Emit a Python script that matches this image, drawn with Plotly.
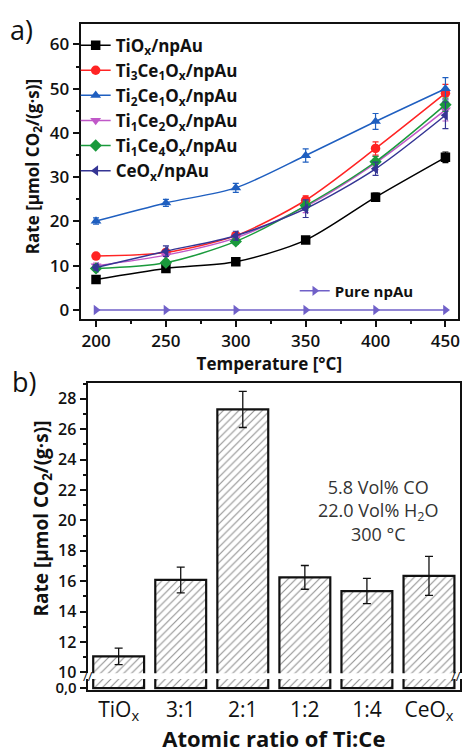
import plotly.graph_objects as go

# ---------------- data: panel a ----------------
temperatures = [200, 250, 300, 350, 400, 450]
series_names = [
    "TiO<sub>x</sub>/npAu",
    "Ti<sub>3</sub>Ce<sub>1</sub>O<sub>x</sub>/npAu",
    "Ti<sub>2</sub>Ce<sub>1</sub>O<sub>x</sub>/npAu",
    "Ti<sub>1</sub>Ce<sub>2</sub>O<sub>x</sub>/npAu",
    "Ti<sub>1</sub>Ce<sub>4</sub>O<sub>x</sub>/npAu",
    "CeO<sub>x</sub>/npAu",
]
tiox = [6.9, 9.4, 10.9, 15.8, 25.5, 34.5]
ti3ce1 = [12.2, 13.0, 16.8, 24.8, 36.5, 49.0]
ti2ce1 = [20.1, 24.2, 27.6, 34.9, 42.6, 50.0]
ti1ce2 = [10.0, 12.4, 16.3, 23.4, 33.2, 45.2]
ti1ce4 = [9.4, 10.7, 15.5, 23.6, 33.5, 46.4]
ceox = [9.6, 13.3, 16.8, 22.9, 31.9, 44.0]
tiox_err = [0.4, 0.5, 0.5, 0.6, 0.9, 1.2]
ti3ce1_err = [0.5, 0.6, 0.7, 1.0, 1.5, 2.0]
ti2ce1_err = [0.7, 0.8, 1.0, 1.5, 1.8, 2.5]
ti1ce2_err = [0.6, 1.0, 0.8, 1.4, 1.5, 2.5]
ti1ce4_err = [0.5, 0.6, 0.6, 1.0, 1.2, 1.5]
ceox_err = [0.6, 1.2, 1.0, 2.0, 1.5, 3.0]
pure_npau = [0, 0, 0, 0, 0, 0]

# ---------------- data: panel b ----------------
categories = ["TiOx", "3:1", "2:1", "1:2", "1:4", "CeOx"]
tick_labels = ["TiO<sub>x</sub>", "3:1", "2:1", "1:2", "1:4", "CeO<sub>x</sub>"]
bar_rates = [11.05, 16.08, 27.3, 16.25, 15.35, 16.35]
bar_errors = [0.54, 0.85, 1.19, 0.78, 0.83, 1.28]

FONT = "Open Sans"
W, H = 464, 753

def px(x):
    return x / W

def py(y):
    return 1 - y / H

fig = go.Figure()

colors = ["#000000", "#ff2424", "#1f5fc0", "#c058c8", "#1a9a3c", "#353594"]
symbols = ["square", "circle", "triangle-up", "triangle-down", "diamond", "triangle-left"]
values = [tiox, ti3ce1, ti2ce1, ti1ce2, ti1ce4, ceox]
errors = [tiox_err, ti3ce1_err, ti2ce1_err, ti1ce2_err, ti1ce4_err, ceox_err]

for name, col, sym, v, e in zip(series_names, colors, symbols, values, errors):
    fig.add_trace(go.Scatter(
        x=temperatures, y=v, name=name, mode="lines+markers",
        line=dict(color=col, width=1.5, shape="spline", smoothing=0.8),
        marker=dict(color=col, symbol=sym, size=9.5),
        error_y=dict(type="data", array=e, color=col, thickness=1.2, width=3),
        xaxis="x", yaxis="y", legend="legend",
    ))

fig.add_trace(go.Scatter(
    x=temperatures, y=pure_npau, name="Pure npAu", mode="lines+markers",
    line=dict(color="#7060c8", width=1.5),
    marker=dict(color="#7060c8", symbol="triangle-right", size=9),
    xaxis="x", yaxis="y", legend="legend2",
))

hatch = dict(shape="/", fgcolor="#222222", bgcolor="white", size=5.5, solidity=0.2)

# bars: upper segment
fig.add_trace(go.Bar(
    x=categories, y=bar_rates, xaxis="x2", yaxis="y2", showlegend=False,
    width=0.82,
    marker=dict(color="white", line=dict(color="#111111", width=2.2), pattern=hatch),
    error_y=dict(type="data", array=bar_errors, color="#111111", thickness=1.3, width=4),
))
# bars: lower (broken) segment
fig.add_trace(go.Bar(
    x=categories, y=bar_rates, xaxis="x3", yaxis="y3", showlegend=False,
    width=0.82,
    marker=dict(color="white", line=dict(color="#111111", width=2.2), pattern=hatch),
))

tickfont_a = dict(family=FONT, size=17, color="#111111", weight=600)
tickfont_b = dict(family=FONT, size=16, color="#111111", weight=600)
axis_common = dict(showline=True, linecolor="#111111", linewidth=2,
                   ticks="outside", tickcolor="#111111", tickwidth=1.5,
                   showgrid=False, zeroline=False)

fig.update_layout(
    width=W, height=H,
    margin=dict(l=0, r=0, t=0, b=0),
    paper_bgcolor="white", plot_bgcolor="white",
    font=dict(family=FONT, color="#111111"),
    barmode="overlay",
    xaxis=dict(domain=[px(81), px(460)], anchor="y", range=[189, 459],
               tickvals=[200, 250, 300, 350, 400, 450], ticklen=6,
               minor=dict(dtick=25, ticks="outside", ticklen=3, tickcolor="#111111"),
               mirror=True, tickfont=tickfont_a,
               title=dict(text="Temperature [°C]", font=dict(family=FONT, size=17, weight="bold"),
                          standoff=6),
               **axis_common),
    yaxis=dict(domain=[py(322), py(22)], anchor="x", range=[-2, 64.7],
               dtick=10, ticklen=6,
               minor=dict(dtick=5, ticks="outside", ticklen=3, tickcolor="#111111"),
               mirror=True, tickfont=tickfont_a,
               **axis_common),
    xaxis2=dict(domain=[px(88), px(462)], anchor="y2", side="top", range=[-0.5, 5.5],
                showline=True, linecolor="#111111", linewidth=2, ticks="",
                showticklabels=False, showgrid=False, zeroline=False,
                categoryorder="array", categoryarray=categories),
    yaxis2=dict(domain=[py(682), py(387)], anchor="x2", range=[9.95, 29.05],
                dtick=2, ticklen=6, mirror=True,
                minor=dict(dtick=1, ticks="outside", ticklen=3, tickcolor="#111111"),
                tickfont=tickfont_b, **axis_common),
    xaxis3=dict(domain=[px(88), px(462)], anchor="y3", range=[-0.5, 5.5],
                showline=True, linecolor="#111111", linewidth=2, ticks="",
                tickvals=categories, ticktext=tick_labels,
                tickfont=dict(family=FONT, size=21, color="#111111"),
                showgrid=False, zeroline=False,
                categoryorder="array", categoryarray=categories,
                title=dict(text="Atomic ratio of Ti:Ce", font=dict(family=FONT, size=22, weight="bold"),
                           standoff=0)),
    yaxis3=dict(domain=[py(699), py(688)], anchor="x3", range=[-0.2, 1.0],
                tickvals=[0], ticktext=["0,0"], ticklen=6, mirror=True,
                tickfont=dict(family=FONT, size=15, color="#111111", weight=600),
                **axis_common),
    legend=dict(x=px(76), y=py(26), xanchor="left", yanchor="top",
                bgcolor="rgba(0,0,0,0)", borderwidth=0, tracegroupgap=0,
                font=dict(family=FONT, size=17, weight="bold", color="#111111"),
                itemwidth=30),
    legend2=dict(x=px(296), y=py(277), xanchor="left", yanchor="top",
                 bgcolor="rgba(0,0,0,0)", borderwidth=0,
                 font=dict(family=FONT, size=15, weight="bold", color="#111111"),
                 itemwidth=30),
)

annotations = [
    dict(text="a)", x=px(8), y=py(28), xref="paper", yref="paper", xanchor="left",
         yanchor="middle", showarrow=False, font=dict(family=FONT, size=27, color="#111111")),
    dict(text="b)", x=px(10), y=py(386), xref="paper", yref="paper", xanchor="left",
         yanchor="middle", showarrow=False, font=dict(family=FONT, size=27, color="#111111")),
    dict(text="Rate [μmol CO<sub>2</sub>/(g·s)]", x=px(33), y=py(167), xref="paper", yref="paper",
         textangle=-90, showarrow=False, xanchor="center", yanchor="middle",
         font=dict(family=FONT, size=17, weight="bold", color="#111111")),
    dict(text="Rate [μmol CO<sub>2</sub>/(g·s)]", x=px(42), y=py(525), xref="paper", yref="paper",
         textangle=-90, showarrow=False, xanchor="center", yanchor="middle",
         font=dict(family=FONT, size=19, weight="bold", color="#111111")),
    dict(text="5.8 Vol% CO<br>22.0 Vol% H<sub>2</sub>O<br>300 °C", x=px(380), y=py(517),
         xref="paper", yref="paper", showarrow=False, align="center",
         xanchor="center", yanchor="middle",
         font=dict(family=FONT, size=18, color="#333333")),
    dict(text="//", x=px(88), y=py(685), xref="paper", yref="paper", showarrow=False,
         xanchor="center", yanchor="middle", font=dict(family=FONT, size=13, color="#111111")),
    dict(text="//", x=px(458), y=py(685), xref="paper", yref="paper", showarrow=False,
         xanchor="center", yanchor="middle", font=dict(family=FONT, size=13, color="#111111")),
]
fig.update_layout(annotations=annotations)

fig.write_html("out.html")
